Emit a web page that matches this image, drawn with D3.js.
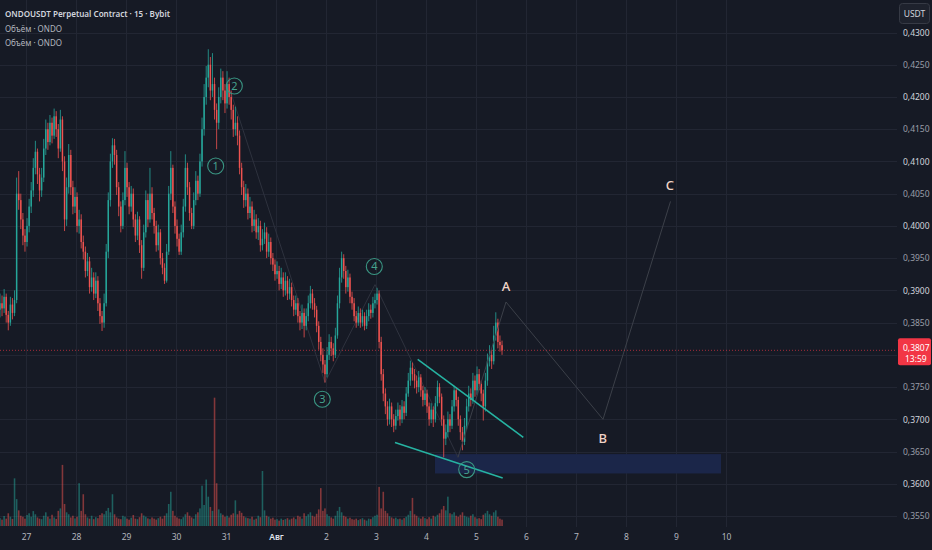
<!DOCTYPE html>
<html><head><meta charset="utf-8">
<script src="https://cdn.jsdelivr.net/npm/d3@7"></script>
<style>html,body{margin:0;padding:0;background:#161a25;} svg{display:block;font-family:"Noto Sans",sans-serif;}</style>
</head><body><svg id="c" width="932" height="550"></svg>
<script>
// ---------- DATA ----------
const title = "ONDOUSDT Perpetual Contract · 15 · Bybit";
const subTitles = ["Объём · ONDO", "Объём · ONDO"];
const startTime = "2024-07-26T11:00:00Z"; // first candle open (1h candles)
const firstOpen = 0.3870;
const closes = [
.3880,.3872,.3890,.3862,.3850,.3878,.3865,.3885,.4050,.4040,
.4010,.3985,.3975,.4000,.4030,.4055,.4090,.4115,.4080,.4055,
.4075,.4120,.4150,.4130,.4160,.4140,.4170,.4150,.4120,.4165,
.4100,.4010,.4060,.4110,.4060,.4030,.4045,.4000,.4010,.3975,
.3960,.3930,.3945,.3905,.3920,.3895,.3915,.3880,.3860,.3850,
.3880,.3960,.4040,.4100,.4125,.4110,.4060,.4030,.4000,.4040,
.4090,.4060,.4030,.4050,.4010,.3985,.4010,.3970,.3935,.3990,
.4040,.4010,.4050,.4020,.4000,.3970,.3990,.3950,.3935,.3915,
.3960,.4050,.4090,.4030,.4000,.3980,.3960,.3990,.4030,.4090,
.4060,.4020,.4000,.4040,.4070,.4050,.4100,.4150,.4200,.4230,
.4250,.4210,.4220,.4180,.4160,.4200,.4230,.4210,.4190,.4220,
.4200,.4180,.4150,.4160,.4140,.4090,.4060,.4040,.4050,.4020,
.4030,.4000,.4010,.3990,.4000,.3970,.3980,.3990,.3960,.3975,
.3950,.3940,.3925,.3930,.3910,.3920,.3900,.3915,.3895,.3905,
.3885,.3870,.3880,.3860,.3850,.3865,.3845,.3860,.3880,.3895,
.3880,.3870,.3845,.3820,.3800,.3785,.3770,.3800,.3820,.3810,
.3800,.3830,.3880,.3920,.3950,.3930,.3905,.3920,.3890,.3880,
.3860,.3850,.3865,.3850,.3860,.3845,.3860,.3870,.3865,.3880,
.3885,.3895,.3820,.3770,.3740,.3720,.3700,.3720,.3700,.3690,
.3705,.3715,.3700,.3720,.3710,.3740,.3760,.3780,.3770,.3760,
.3750,.3765,.3745,.3730,.3740,.3720,.3700,.3715,.3700,.3725,
.3750,.3735,.3700,.3670,.3680,.3700,.3690,.3720,.3745,.3730,
.3700,.3680,.3665,.3690,.3720,.3740,.3730,.3760,.3745,.3770,
.3755,.3740,.3720,.3760,.3790,.3800,.3790,.3830,.3850,.3820,
.3815,.3807];
const highs = [
.3895,.3892,.3902,.3895,.3868,.3890,.3888,.3900,.4075,.4085,
.4050,.4020,.3995,.4012,.4042,.4068,.4105,.4132,.4120,.4090,
.4090,.4135,.4165,.4160,.4172,.4168,.4182,.4178,.4158,.4180,
.4170,.4108,.4075,.4127,.4118,.4070,.4060,.4052,.4025,.4018,
.3985,.3968,.3958,.3952,.3935,.3928,.3928,.3922,.3888,.3868,
.3895,.3972,.4052,.4112,.4136,.4135,.4118,.4068,.4038,.4052,
.4116,.4098,.4068,.4062,.4058,.4018,.4022,.4015,.3978,.4002,
.4055,.4050,.4090,.4060,.4028,.4008,.4002,.3995,.3958,.3942,
.3972,.4062,.4116,.4095,.4038,.4010,.3988,.4002,.4042,.4111,
.4098,.4068,.4028,.4052,.4085,.4078,.4112,.4168,.4220,.4248,
.4274,.4262,.4268,.4230,.4190,.4215,.4244,.4240,.4220,.4240,
.4230,.4210,.4188,.4185,.4170,.4148,.4098,.4070,.4065,.4058,
.4045,.4038,.4025,.4018,.4012,.4008,.3995,.4005,.3998,.3988,
.3982,.3958,.3948,.3945,.3938,.3935,.3928,.3928,.3922,.3918,
.3912,.3892,.3892,.3888,.3868,.3878,.3872,.3872,.3892,.3907,
.3902,.3888,.3876,.3852,.3828,.3810,.3792,.3812,.3832,.3828,
.3818,.3842,.3892,.3935,.3960,.3956,.3938,.3932,.3926,.3898,
.3888,.3868,.3875,.3872,.3870,.3866,.3870,.3880,.3878,.3890,
.3895,.3904,.3900,.3828,.3778,.3748,.3728,.3732,.3726,.3708,
.3715,.3726,.3722,.3730,.3728,.3750,.3772,.3791,.3788,.3778,
.3768,.3775,.3770,.3752,.3750,.3746,.3726,.3725,.3720,.3736,
.3760,.3756,.3740,.3706,.3692,.3712,.3708,.3730,.3752,.3750,
.3735,.3706,.3688,.3702,.3732,.3752,.3748,.3772,.3768,.3782,
.3778,.3760,.3746,.3772,.3802,.3815,.3808,.3845,.3866,.3856,
.3830,.3822];
const lows = [
.3858,.3860,.3865,.3850,.3838,.3845,.3855,.3860,.3880,.4025,
.3995,.3970,.3960,.3968,.3990,.4020,.4045,.4080,.4065,.4038,
.4045,.4068,.4110,.4118,.4125,.4128,.4135,.4138,.4105,.4115,
.4085,.3992,.4000,.4050,.4048,.4018,.4020,.3990,.3988,.3965,
.3948,.3920,.3922,.3895,.3898,.3885,.3888,.3868,.3848,.3837,
.3842,.3875,.3950,.4030,.4090,.4095,.4048,.4015,.3990,.3995,
.4032,.4045,.4018,.4022,.3998,.3975,.3978,.3958,.3918,.3930,
.3982,.3998,.4005,.4010,.3988,.3960,.3962,.3940,.3925,.3910,
.3912,.3955,.4040,.4020,.3988,.3968,.3955,.3955,.3982,.4022,
.4048,.4008,.3995,.3995,.4032,.4040,.4045,.4092,.4140,.4188,
.4215,.4195,.4200,.4165,.4119,.4150,.4190,.4195,.4175,.4182,
.4188,.4165,.4138,.4140,.4125,.4080,.4048,.4028,.4030,.4010,
.4012,.3990,.3992,.3980,.3978,.3960,.3962,.3972,.3950,.3952,
.3940,.3930,.3915,.3918,.3900,.3902,.3890,.3892,.3885,.3886,
.3875,.3860,.3862,.3850,.3838,.3840,.3827,.3838,.3852,.3872,
.3870,.3858,.3835,.3808,.3790,.3772,.3757,.3765,.3792,.3798,
.3790,.3795,.3825,.3872,.3912,.3918,.3895,.3898,.3880,.3870,
.3852,.3842,.3845,.3842,.3844,.3838,.3840,.3852,.3856,.3858,
.3872,.3878,.3810,.3760,.3728,.3708,.3690,.3692,.3688,.3680,
.3684,.3698,.3690,.3694,.3700,.3705,.3735,.3752,.3760,.3748,
.3740,.3742,.3735,.3720,.3722,.3710,.3690,.3694,.3688,.3695,
.3720,.3725,.3690,.3641,.3660,.3672,.3680,.3685,.3712,.3720,
.3690,.3668,.3652,.3660,.3684,.3712,.3720,.3724,.3735,.3738,
.3745,.3728,.3698,.3712,.3752,.3782,.3778,.3785,.3822,.3810,
.3805,.3800];
const volumes = [
320,260,410,300,520,380,290,1950,1100,640,
420,380,300,450,520,380,610,480,350,300,
280,420,560,380,300,460,350,290,620,720,
2500,900,560,480,350,420,310,380,1750,620,
1300,480,350,300,420,280,360,320,450,520,
480,620,740,560,1300,480,350,300,280,420,
380,300,260,340,450,300,280,360,520,430,
380,310,280,350,300,260,320,380,300,420,
520,900,1400,620,420,350,300,280,360,480,
560,420,350,300,480,560,720,1650,860,1900,
1200,780,620,5250,1750,680,520,460,380,420,
350,460,520,1050,480,620,540,400,350,320,
300,380,260,300,420,360,2250,640,420,380,
300,340,260,280,220,300,250,280,320,260,
300,350,280,420,380,300,520,400,480,560,
420,380,500,680,1550,620,720,480,400,350,
300,420,620,780,560,420,380,300,340,280,
260,300,240,280,320,260,220,300,280,360,
420,460,1600,720,1400,620,520,400,350,300,
340,280,300,260,320,380,460,620,1150,480,
420,350,300,380,320,280,360,300,420,380,
460,520,680,820,640,1200,520,480,560,420,
380,460,560,420,380,350,420,480,360,300,
320,280,460,520,620,480,420,560,640,380,
300,260];
const dayTicks = ["2024-07-27","2024-07-28","2024-07-29","2024-07-30","2024-07-31","2024-08-01","2024-08-02","2024-08-03","2024-08-04","2024-08-05","2024-08-06","2024-08-07","2024-08-08","2024-08-09","2024-08-10"];
const monthLabel = "Авг";
const priceTicks = [0.3550,0.3600,0.3650,0.3700,0.3750,0.3800,0.3850,0.3900,0.3950,0.4000,0.4050,0.4100,0.4150,0.4200,0.4250,0.4300];
const lastPrice = 0.3807;
const countdown = "13:59";
const currency = "USDT";
const waveLabels = [
  {t:"2024-07-30T19:03Z", p:0.4093, label:"1"},
  {t:"2024-07-31T04:00Z", p:0.4217, label:"2"},
  {t:"2024-08-01T22:13Z", p:0.3731, label:"3"},
  {t:"2024-08-02T23:11Z", p:0.3937, label:"4"},
  {t:"2024-08-04T19:32Z", p:0.3622, label:"5"}
];
const impulsePath = [
  {t:"2024-07-31T01:55Z", p:0.4211},
  {t:"2024-08-01T23:31Z", p:0.3757},
  {t:"2024-08-02T23:31Z", p:0.3909},
  {t:"2024-08-04T15:22Z", p:0.3641}
];
const correctionPath = [
  {t:"2024-08-04T15:22Z", p:0.3641},
  {t:"2024-08-05T14:24Z", p:0.3882},
  {t:"2024-08-07T12:58Z", p:0.3700},
  {t:"2024-08-08T21:22Z", p:0.4038}
];
const abcLabels = [
  {t:"2024-08-05T14:24Z", p:0.3907, label:"A"},
  {t:"2024-08-07T12:49Z", p:0.3670, label:"B"},
  {t:"2024-08-08T21:07Z", p:0.4063, label:"C"}
];
const zone = {t0:"2024-08-04T04:19Z", t1:"2024-08-09T21:36Z", p0:0.3646, p1:0.3616};
const trendLines = [
  [{t:"2024-08-03T20:01Z", p:0.3793},{t:"2024-08-05T22:42Z", p:0.3672}],
  [{t:"2024-08-03T09:07Z", p:0.3664},{t:"2024-08-05T12:49Z", p:0.3609}]
];

// ---------- CHART ----------
const svg = d3.select("#c");
const W = 932, H = 550, plotRight = 897, plotBottom = 527;
const UP = "#26a69a", DOWN = "#ef5350", GRID = "#222633";
const HOUR = 3600e3;
const t0 = new Date(startTime);
const n = Math.min(closes.length, highs.length, lows.length, volumes.length);
const candles = d3.range(n).map(i => ({
  t: new Date(+t0 + i*HOUR + HOUR/2),
  o: i === 0 ? firstOpen : closes[i-1],
  c: closes[i], h: highs[i], l: lows[i], v: volumes[i]
}));
const pd = s => new Date(s);

const x = d3.scaleUtc()
  .domain([new Date("2024-07-27T00:00:00Z"), new Date("2024-08-10T00:00:00Z")])
  .range([26, 726]);
const y = d3.scaleLinear().domain([0.3550, 0.4300]).range([516, 32.5]);
const yv = d3.scaleLinear().domain([0, 5400]).range([526, 394]);

svg.append("rect").attr("width", W).attr("height", H).attr("fill", "#161a25");

// grid
const grid = svg.append("g");
grid.selectAll(".hg").data(priceTicks).join("line")
  .attr("x1", 0).attr("x2", plotRight)
  .attr("y1", d => Math.round(y(d)) + 0.5).attr("y2", d => Math.round(y(d)) + 0.5)
  .attr("stroke", GRID).attr("stroke-width", 1);
grid.selectAll(".vg").data(dayTicks).join("line")
  .attr("x1", d => Math.round(x(pd(d + "T00:00:00Z"))) + 0.5)
  .attr("x2", d => Math.round(x(pd(d + "T00:00:00Z"))) + 0.5)
  .attr("y1", 0).attr("y2", plotBottom)
  .attr("stroke", GRID).attr("stroke-width", 1);

// volume
const step = x(new Date(+t0 + HOUR)) - x(t0);
svg.append("g").selectAll("rect").data(candles).join("rect")
  .attr("x", d => x(d.t) - step*0.38)
  .attr("width", step*0.76)
  .attr("y", d => yv(d.v))
  .attr("height", d => yv(0) - yv(d.v))
  .attr("fill", d => d.c >= d.o ? UP : DOWN)
  .attr("opacity", 0.5);

// zone
svg.append("rect")
  .attr("x", x(pd(zone.t0))).attr("width", x(pd(zone.t1)) - x(pd(zone.t0)))
  .attr("y", y(zone.p0)).attr("height", y(zone.p1) - y(zone.p0))
  .attr("fill", "#1b2649");

// impulse wave line (faint, behind candles)
const line = d3.line().x(d => x(pd(d.t))).y(d => y(d.p));
svg.append("path").datum(impulsePath).attr("d", line)
  .attr("fill", "none").attr("stroke", "#2e323e").attr("stroke-width", 1);

// candles
const cg = svg.append("g");
cg.selectAll("line").data(candles).join("line")
  .attr("x1", d => x(d.t)).attr("x2", d => x(d.t))
  .attr("y1", d => y(d.h)).attr("y2", d => y(d.l))
  .attr("stroke", d => d.c >= d.o ? UP : DOWN).attr("stroke-width", 0.8);
cg.selectAll("rect").data(candles).join("rect")
  .attr("x", d => x(d.t) - step*0.35)
  .attr("width", step*0.7)
  .attr("y", d => y(Math.max(d.o, d.c)))
  .attr("height", d => Math.max(0.8, Math.abs(y(d.o) - y(d.c))))
  .attr("fill", d => d.c >= d.o ? UP : DOWN);

// correction projection line
svg.append("path").datum(correctionPath).attr("d", line)
  .attr("fill", "none").attr("stroke", "#3c4049").attr("stroke-width", 1);

// trend lines
svg.append("g").selectAll("path").data(trendLines).join("path")
  .attr("d", line).attr("fill", "none")
  .attr("stroke", "#26b3a2").attr("stroke-width", 1.5);

// wave labels
const wl = svg.append("g").selectAll("g").data(waveLabels).join("g")
  .attr("transform", d => `translate(${x(pd(d.t))},${y(d.p)})`);
wl.append("circle").attr("r", 8).attr("fill", "none")
  .attr("stroke", "#3a9683").attr("stroke-width", 1.1);
wl.append("text").text(d => d.label).attr("text-anchor", "middle")
  .attr("dy", "0.36em").attr("font-size", 11).attr("fill", "#46a28e");

// ABC labels
svg.append("g").selectAll("text").data(abcLabels).join("text")
  .attr("x", d => x(pd(d.t))).attr("y", d => y(d.p))
  .attr("dy", "0.36em").attr("text-anchor", "middle")
  .attr("font-size", 13).attr("font-weight", 500).attr("fill", "#f1d5c7")
  .text(d => d.label);

// last price line
svg.append("line").attr("x1", 0).attr("x2", plotRight)
  .attr("y1", y(lastPrice)).attr("y2", y(lastPrice))
  .attr("stroke", "#f23645").attr("stroke-opacity", 0.65)
  .attr("stroke-width", 1).attr("stroke-dasharray", "1,2");

// price axis (tick hidden behind the last-price label is skipped)
const fmt = d => d3.format(".4f")(d).replace(".", ",");
const ly = y(lastPrice);
const shownTicks = priceTicks.filter(d => Math.abs(y(d) - ly) > 14);
const ay = svg.append("g").attr("transform", `translate(${plotRight + 2},0)`)
  .call(d3.axisRight(y).tickValues(shownTicks).tickSize(0).tickPadding(4).tickFormat(fmt));
ay.select(".domain").remove();
ay.selectAll("text").attr("font-size", 8.5).attr("font-family", "Noto Sans")
  .attr("fill", d => Math.abs(Math.round(d*200) % 2) === 0 ? "#d1d4dc" : "#9a9ea8");

// time axis
const ax = svg.append("g").attr("transform", `translate(0,${plotBottom})`)
  .call(d3.axisBottom(x).tickValues(dayTicks.map(d => pd(d + "T00:00:00Z")))
    .tickSize(0).tickPadding(7)
    .tickFormat(d => d.getUTCDate() === 1 ? monthLabel : String(d.getUTCDate())));
ax.select(".domain").remove();
ax.selectAll("text").attr("font-size", 8.5).attr("font-family", "Noto Sans")
  .attr("fill", d => d.getUTCDate() === 1 ? "#e0e3eb" : "#b2b5be")
  .attr("font-weight", d => d.getUTCDate() === 1 ? 600 : 400);

// last price label
svg.append("rect").attr("x", 898).attr("y", ly - 12).attr("width", 33).attr("height", 27)
  .attr("rx", 2).attr("fill", "#f23645");
svg.append("text").attr("x", 903).attr("y", ly + 0.5).attr("font-size", 8.5)
  .attr("fill", "#ffffff").text(fmt(lastPrice));
svg.append("text").attr("x", 905).attr("y", ly + 11.5).attr("font-size", 8.5)
  .attr("fill", "#ffffff").text(countdown);

// currency box
svg.append("rect").attr("x", 899.5).attr("y", 3.5).attr("width", 30).attr("height", 20)
  .attr("rx", 3).attr("fill", "#1e222d").attr("stroke", "#363a45");
svg.append("text").attr("x", 914.5).attr("y", 16.5).attr("text-anchor", "middle")
  .attr("font-size", 8.5).attr("fill", "#d1d4dc").text(currency);

// header
svg.append("text").attr("x", 5).attr("y", 17).attr("font-size", 9.5).attr("font-weight", 600)
  .attr("fill", "#d1d4dc").attr("textLength", 165).attr("lengthAdjust", "spacingAndGlyphs").text(title);
svg.selectAll(".sub").data(subTitles).join("text")
  .attr("x", 5).attr("y", (d, i) => 31.5 + i*14).attr("font-size", 9)
  .attr("fill", "#b2b5be").attr("textLength", 57).attr("lengthAdjust", "spacingAndGlyphs").text(d => d);
</script>
</body></html>
